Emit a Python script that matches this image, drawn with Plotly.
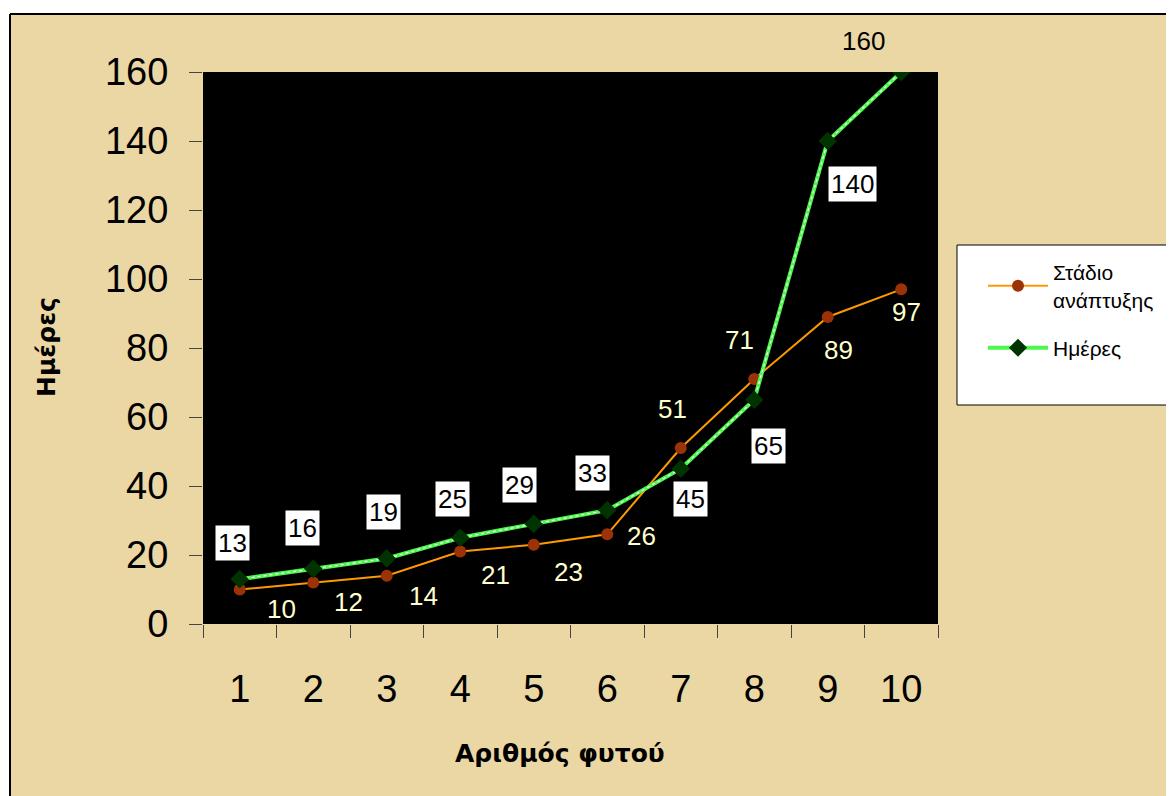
import plotly.graph_objects as go

categories = ["1", "2", "3", "4", "5", "6", "7", "8", "9", "10"]
stadio = [10, 12, 14, 21, 23, 26, 51, 71, 89, 97]
imeres = [13, 16, 19, 25, 29, 33, 45, 65, 140, 160]
y_ticks = [0, 20, 40, 60, 80, 100, 120, 140, 160]

# label offsets in pixels (dx, dy) relative to each point
stadio_off = [(42, 19), (35, 19), (37, 20), (35, 23), (35, 27), (34, 2), (-8, -39), (-15, -39), (11, 33), (5, 23)]
imeres_off = [(-7, -36), (-11, -41), (-3, -46), (-8, -39), (-14, -39), (-15, -37), (10, 30), (14, 46), (25, 43), (-38, -31)]

FONT = "Arial, Liberation Sans, sans-serif"
TFONT = "DejaVu Sans, Verdana, sans-serif"
PARCH = "#EAD7A3"

# page offset of the figure (body margin)
OFF = 8
# plot area in page pixels
PL, PR, PT, PB = 203, 938, 72, 624
W, H = 1174, 796
PW, PH = PR - PL, PB - PT


def px(x):
    return (x - PL) / PW


def py(y):
    return (PB - y) / PH


fig = go.Figure()
fig.add_trace(go.Scatter(
    x=categories, y=stadio, mode="lines+markers", name="Στάδιο<br>ανάπτυξης",
    legendgroup="a",
    line=dict(color="#FF9900", width=2),
    marker=dict(symbol="circle", size=12, color="#9C3306"),
))
fig.add_trace(go.Scatter(
    x=categories, y=imeres, mode="lines+markers", name="Ημέρες",
    legendgroup="b",
    line=dict(color="#4CF84C", width=4),
    marker=dict(symbol="diamond", size=14, color="#003300"),
))
fig.add_trace(go.Scatter(
    x=categories, y=imeres, mode="lines", showlegend=False, hoverinfo="skip",
    line=dict(color="white", width=1.2, dash="dot"),
))
fig.add_trace(go.Scatter(
    x=categories, y=imeres, mode="markers", showlegend=False, hoverinfo="skip",
    marker=dict(symbol="diamond", size=14, color="#003300"),
))

annotations = []
for i, (v, (dx, dy)) in enumerate(zip(stadio, stadio_off)):
    annotations.append(dict(x=i, y=v, xref="x", yref="y", text=str(v), showarrow=False,
                            xanchor="center", yanchor="middle",
                            xshift=dx, yshift=-dy, font=dict(family=FONT, size=26, color="#FFFFCC")))
for i, (v, (dx, dy)) in enumerate(zip(imeres, imeres_off)):
    boxed = i != len(imeres) - 1
    annotations.append(dict(x=i, y=v, xref="x", yref="y", text=str(v), showarrow=False,
                            xanchor="center", yanchor="middle",
                            xshift=dx, yshift=-dy, font=dict(family=FONT, size=26, color="black"),
                            bgcolor="white" if boxed else "rgba(0,0,0,0)", borderpad=2))
annotations.append(dict(x=px(46), y=py(347), xref="paper", yref="paper", text="<b>Ημέρες</b>",
                        xanchor="center", yanchor="middle",
                        textangle=-90, showarrow=False, font=dict(family=TFONT, size=25, color="black")))
annotations.append(dict(x=px(560), y=py(753), xref="paper", yref="paper", text="<b>Αριθμός φυτού</b>",
                        xanchor="center", yanchor="middle",
                        showarrow=False, font=dict(family=TFONT, size=25, color="black")))

BL = dict(color="black", width=2)
shapes = [
    # parchment background with top/left border
    dict(type="rect", xref="paper", yref="paper", x0=px(10), x1=px(1200), y0=py(820), y1=py(14),
         fillcolor=PARCH, line=dict(width=0), layer="below"),
    dict(type="line", xref="paper", yref="paper", x0=px(10), x1=px(1200), y0=py(14), y1=py(14),
         line=BL, layer="below"),
    dict(type="line", xref="paper", yref="paper", x0=px(10), x1=px(10), y0=py(14), y1=py(820),
         line=BL, layer="below"),
    # plot area
    dict(type="rect", xref="paper", yref="paper", x0=0, x1=1, y0=0, y1=1,
         fillcolor="black", line=dict(width=0), layer="below"),
    # legend box (right side runs off the picture)
    dict(type="rect", xref="paper", yref="paper", x0=px(957), x1=px(1200), y0=py(405), y1=py(245),
         fillcolor="white", line=dict(width=0), layer="below"),
    dict(type="line", xref="paper", yref="paper", x0=px(957), x1=px(1200), y0=py(245), y1=py(245),
         line=dict(color="black", width=1), layer="below"),
    dict(type="line", xref="paper", yref="paper", x0=px(957), x1=px(1200), y0=py(405), y1=py(405),
         line=dict(color="black", width=1), layer="below"),
    dict(type="line", xref="paper", yref="paper", x0=px(957), x1=px(957), y0=py(245), y1=py(405),
         line=dict(color="black", width=1), layer="below"),
]

L = PL - OFF
T = PT - OFF
fig.update_layout(
    width=W, height=H,
    margin=dict(l=L, r=W - L - PW, t=T, b=H - T - PH),
    paper_bgcolor="white", plot_bgcolor="black",
    font=dict(family=FONT, color="black"),
    showlegend=True,
    legend=dict(x=px(983), y=py(252), xanchor="left", yanchor="top",
                bgcolor="rgba(0,0,0,0)", borderwidth=0,
                font=dict(family=FONT, size=21, color="black"),
                tracegroupgap=18, itemwidth=60),
    annotations=annotations, shapes=shapes,
    xaxis=dict(type="category", range=[-0.5, 9.5], showgrid=False, zeroline=False,
               tickson="boundaries", ticks="outside", ticklen=13, tickcolor="#444", tickwidth=1,
               tickfont=dict(family=FONT, size=38, color="black"), ticklabelstandoff=39,
               showline=False, fixedrange=True),
    yaxis=dict(range=[0, 160], tickvals=y_ticks, showgrid=False, zeroline=False,
               ticks="outside", ticklen=13, tickcolor="#444", tickwidth=1,
               tickfont=dict(family=FONT, size=38, color="black"), ticklabelstandoff=13,
               showline=False, fixedrange=True),
)

fig.write_html("out.html")
